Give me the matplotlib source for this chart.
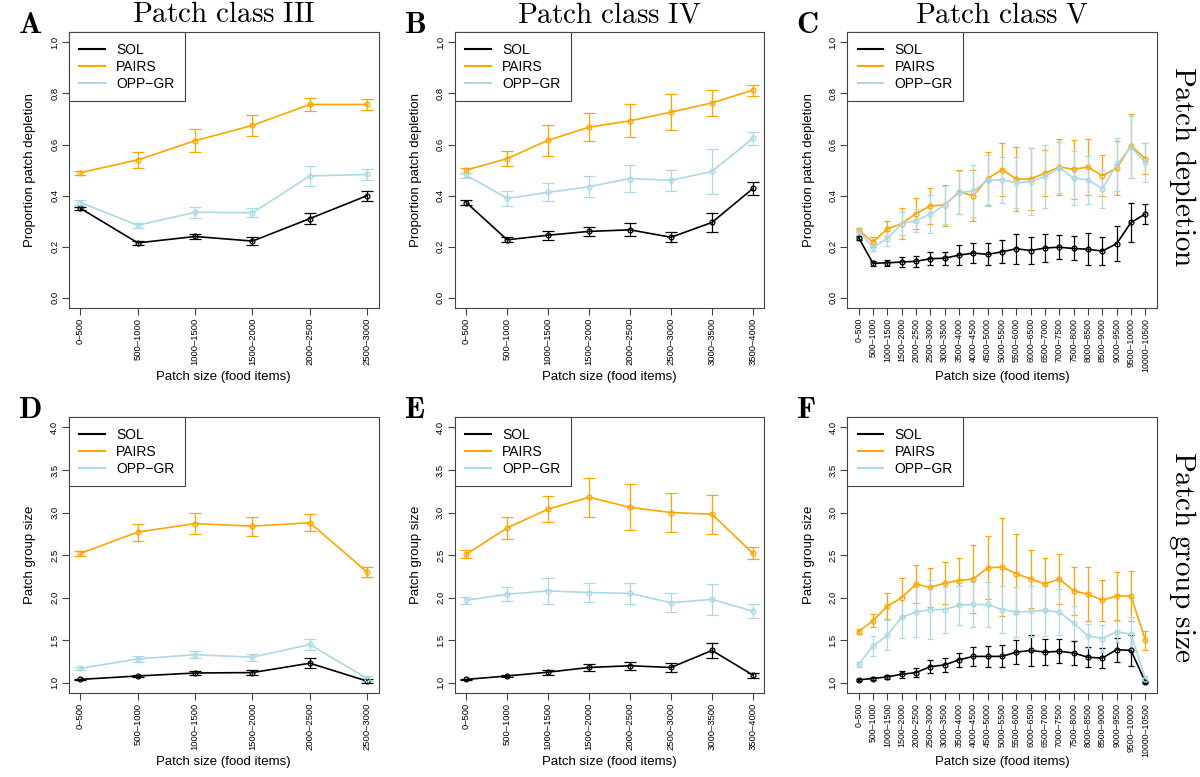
import matplotlib
matplotlib.use("Agg")
import matplotlib.pyplot as plt
from matplotlib.lines import Line2D
import numpy as np

plt.rcParams['font.family'] = ['Liberation Sans', 'DejaVu Sans']
plt.rcParams['mathtext.fontset'] = 'cm'

# категорії розмірів ділянок
labels_III = ["0–500", "500–1000", "1000–1500", "1500–2000", "2000–2500", "2500–3000"]
labels_IV = labels_III + ["3000–3500", "3500–4000"]
labels_V = [f"{a}–{a + 500}" for a in range(0, 10500, 500)]

# A: patch depletion, class III
dep_III_sol = [0.350, 0.215, 0.240, 0.222, 0.310, 0.400]
dep_III_sol_err = [0.005, 0.008, 0.010, 0.015, 0.021, 0.020]
dep_III_pairs = [0.490, 0.540, 0.615, 0.675, 0.757, 0.757]
dep_III_pairs_err = [0.008, 0.030, 0.045, 0.040, 0.025, 0.022]
dep_III_opp = [0.373, 0.284, 0.335, 0.333, 0.477, 0.483]
dep_III_opp_err = [0.008, 0.010, 0.022, 0.018, 0.038, 0.022]

# B: patch depletion, class IV
dep_IV_sol = [0.373, 0.227, 0.245, 0.260, 0.266, 0.237, 0.295, 0.428]
dep_IV_sol_err = [0.008, 0.010, 0.017, 0.017, 0.025, 0.020, 0.038, 0.027]
dep_IV_pairs = [0.500, 0.545, 0.617, 0.668, 0.693, 0.727, 0.763, 0.813]
dep_IV_pairs_err = [0.010, 0.030, 0.060, 0.055, 0.065, 0.070, 0.050, 0.022]
dep_IV_opp = [0.480, 0.389, 0.413, 0.435, 0.467, 0.460, 0.495, 0.624]
dep_IV_opp_err = [0.010, 0.028, 0.036, 0.040, 0.053, 0.042, 0.088, 0.026]

# C: patch depletion, class V
dep_V_sol = [0.235, 0.135, 0.137, 0.140, 0.143, 0.153, 0.155, 0.167, 0.175, 0.170, 0.180,
             0.192, 0.185, 0.195, 0.198, 0.193, 0.190, 0.183, 0.212, 0.295, 0.328]
dep_V_sol_err = [0.008, 0.010, 0.012, 0.018, 0.022, 0.025, 0.025, 0.038, 0.040, 0.043, 0.045,
                 0.058, 0.052, 0.055, 0.047, 0.047, 0.063, 0.056, 0.068, 0.075, 0.040]
dep_V_pairs = [0.265, 0.218, 0.270, 0.290, 0.330, 0.360, 0.363, 0.415, 0.400, 0.467, 0.502,
               0.465, 0.465, 0.488, 0.512, 0.503, 0.512, 0.478, 0.508, 0.595, 0.545]
dep_V_pairs_err = [0.008, 0.020, 0.030, 0.060, 0.060, 0.070, 0.080, 0.085, 0.100, 0.105, 0.105,
                   0.125, 0.120, 0.090, 0.110, 0.115, 0.110, 0.080, 0.105, 0.125, 0.060]
dep_V_opp = [0.260, 0.198, 0.232, 0.290, 0.302, 0.328, 0.363, 0.413, 0.418, 0.460, 0.462,
             0.450, 0.455, 0.475, 0.510, 0.468, 0.462, 0.427, 0.522, 0.590, 0.530]
dep_V_opp_err = [0.010, 0.015, 0.030, 0.045, 0.045, 0.075, 0.075, 0.085, 0.100, 0.100, 0.090,
                 0.100, 0.130, 0.125, 0.100, 0.105, 0.095, 0.075, 0.105, 0.120, 0.075]

# D: patch group size, class III
grp_III_sol = [1.04, 1.08, 1.115, 1.12, 1.23, 1.02]
grp_III_sol_err = [0.01, 0.015, 0.02, 0.025, 0.06, 0.02]
grp_III_pairs = [2.52, 2.77, 2.87, 2.84, 2.88, 2.30]
grp_III_pairs_err = [0.03, 0.10, 0.12, 0.11, 0.10, 0.06]
grp_III_opp = [1.17, 1.28, 1.33, 1.30, 1.45, 1.05]
grp_III_opp_err = [0.02, 0.03, 0.04, 0.04, 0.07, 0.03]

# E: patch group size, class IV
grp_IV_sol = [1.04, 1.08, 1.125, 1.18, 1.20, 1.18, 1.38, 1.09]
grp_IV_sol_err = [0.01, 0.015, 0.03, 0.04, 0.05, 0.05, 0.09, 0.03]
grp_IV_pairs = [2.51, 2.82, 3.04, 3.18, 3.06, 3.00, 2.98, 2.52]
grp_IV_pairs_err = [0.045, 0.13, 0.15, 0.23, 0.27, 0.23, 0.23, 0.07]
grp_IV_opp = [1.97, 2.04, 2.08, 2.06, 2.05, 1.94, 1.98, 1.84]
grp_IV_opp_err = [0.04, 0.08, 0.15, 0.11, 0.12, 0.11, 0.18, 0.08]

# F: patch group size, class V
grp_V_sol = [1.035, 1.05, 1.07, 1.10, 1.12, 1.19, 1.21, 1.27, 1.31, 1.31, 1.31,
             1.36, 1.38, 1.36, 1.37, 1.35, 1.30, 1.29, 1.39, 1.38, 1.01]
grp_V_sol_err = [0.01, 0.015, 0.02, 0.04, 0.05, 0.08, 0.08, 0.08, 0.11, 0.12, 0.13,
                 0.14, 0.18, 0.15, 0.14, 0.14, 0.12, 0.12, 0.14, 0.18, 0.01]
grp_V_pairs = [1.60, 1.73, 1.90, 2.00, 2.16, 2.12, 2.17, 2.20, 2.22, 2.35, 2.36,
               2.28, 2.22, 2.16, 2.22, 2.08, 2.04, 1.97, 2.02, 2.02, 1.50]
grp_V_pairs_err = [0.03, 0.08, 0.15, 0.23, 0.22, 0.23, 0.25, 0.27, 0.40, 0.37, 0.57,
                   0.47, 0.34, 0.31, 0.29, 0.28, 0.32, 0.24, 0.28, 0.29, 0.11]
grp_V_opp = [1.22, 1.43, 1.56, 1.77, 1.83, 1.86, 1.86, 1.91, 1.92, 1.92, 1.86,
             1.83, 1.84, 1.85, 1.83, 1.70, 1.55, 1.52, 1.60, 1.57, 1.05]
grp_V_opp_err = [0.03, 0.12, 0.18, 0.24, 0.29, 0.35, 0.27, 0.23, 0.26, 0.26, 0.28,
                 0.29, 0.30, 0.30, 0.27, 0.20, 0.14, 0.16, 0.12, 0.20, 0.03]

col_sol, col_pairs, col_opp = "black", "#FFA500", "#ADD8E6"


def panel(ax, labels, series, ylim, yticks, ylabel, letter, small=False):
    x = np.arange(1, len(labels) + 1)
    cap = 2 if small else 4
    handles = []
    for (y, err, c, name) in series:
        ax.errorbar(x, y, yerr=err, color=c, lw=1.2, elinewidth=0.9, capsize=cap,
                    capthick=0.9, marker='o', ms=3.5, mfc='none', mew=0.9)
        handles.append(Line2D([], [], color=c, lw=1.5, label=name))
    pad = 0.04 * (len(labels) - 1)
    ax.set_xlim(1 - pad, len(labels) + pad)
    span = ylim[1] - ylim[0]
    ax.set_ylim(ylim[0] - 0.04 * span, ylim[1] + 0.04 * span)
    ax.set_xticks(x)
    ax.set_xticklabels(labels, rotation=90, fontsize=6.3 if small else 6.8)
    ax.set_yticks(yticks)
    ax.set_yticklabels([f"{v:.1f}" for v in yticks], rotation=90, va='center', fontsize=6.8)
    ax.tick_params(color='#444444', length=5, pad=2)
    for s in ax.spines.values():
        s.set_color('#444444')
        s.set_linewidth(0.8)
    ax.set_ylabel(ylabel, fontsize=9.5)
    ax.yaxis.set_label_coords(-0.105, 0.5)
    ax.set_xlabel("Patch size (food items)", fontsize=9.5)
    ax.xaxis.set_label_coords(0.5, -0.228)
    leg = ax.legend(handles=handles, loc='upper left', borderaxespad=0, fancybox=False,
                    framealpha=1, fontsize=10, handlelength=1.85, handletextpad=0.8,
                    borderpad=0.75, labelspacing=0.22)
    leg.get_frame().set_edgecolor('#444444')
    leg.get_frame().set_linewidth(0.8)
    ax.text(-0.165, 1.025, r'$\mathbf{' + letter + '}$', transform=ax.transAxes,
            fontsize=22, ha='left', va='center')


fig = plt.figure(figsize=(12, 7.77), dpi=100)
lefts = [0.0575, 0.379, 0.706]
w = 0.258
tops = [(0.6036, 0.355), (0.1081, 0.355)]

dep_ticks = [0.0, 0.2, 0.4, 0.6, 0.8, 1.0]
grp_ticks = [1.0, 1.5, 2.0, 2.5, 3.0, 3.5, 4.0]

top_data = [
    (labels_III, [(dep_III_sol, dep_III_sol_err, col_sol, "SOL"),
                  (dep_III_pairs, dep_III_pairs_err, col_pairs, "PAIRS"),
                  (dep_III_opp, dep_III_opp_err, col_opp, "OPP−GR")], "A", False),
    (labels_IV, [(dep_IV_sol, dep_IV_sol_err, col_sol, "SOL"),
                 (dep_IV_pairs, dep_IV_pairs_err, col_pairs, "PAIRS"),
                 (dep_IV_opp, dep_IV_opp_err, col_opp, "OPP−GR")], "B", False),
    (labels_V, [(dep_V_sol, dep_V_sol_err, col_sol, "SOL"),
                (dep_V_pairs, dep_V_pairs_err, col_pairs, "PAIRS"),
                (dep_V_opp, dep_V_opp_err, col_opp, "OPP−GR")], "C", True),
]
bottom_data = [
    (labels_III, [(grp_III_sol, grp_III_sol_err, col_sol, "SOL"),
                  (grp_III_pairs, grp_III_pairs_err, col_pairs, "PAIRS"),
                  (grp_III_opp, grp_III_opp_err, col_opp, "OPP−GR")], "D", False),
    (labels_IV, [(grp_IV_sol, grp_IV_sol_err, col_sol, "SOL"),
                 (grp_IV_pairs, grp_IV_pairs_err, col_pairs, "PAIRS"),
                 (grp_IV_opp, grp_IV_opp_err, col_opp, "OPP−GR")], "E", False),
    (labels_V, [(grp_V_sol, grp_V_sol_err, col_sol, "SOL"),
                (grp_V_pairs, grp_V_pairs_err, col_pairs, "PAIRS"),
                (grp_V_opp, grp_V_opp_err, col_opp, "OPP−GR")], "F", True),
]

titles = [r'$\mathrm{Patch\ class\ III}$', r'$\mathrm{Patch\ class\ IV}$', r'$\mathrm{Patch\ class\ V}$']

for i, (labs, ser, let, small) in enumerate(top_data):
    ax = fig.add_axes([lefts[i], tops[0][0], w, tops[0][1]])
    panel(ax, labs, ser, (0, 1), dep_ticks, "Proportion patch depletion", let, small)
    ax.set_title(titles[i], fontsize=21, pad=7)
    if i == 2:
        ax.text(1.084, 0.514, r'$\mathrm{Patch\ depletion}$', transform=ax.transAxes,
                rotation=270, fontsize=21, ha='center', va='center')

for i, (labs, ser, let, small) in enumerate(bottom_data):
    ax = fig.add_axes([lefts[i], tops[1][0], w, tops[1][1]])
    panel(ax, labs, ser, (1, 4), grp_ticks, "Patch group size", let, small)
    if i == 2:
        ax.text(1.084, 0.493, r'$\mathrm{Patch\ group\ size}$', transform=ax.transAxes,
                rotation=270, fontsize=21, ha='center', va='center')

fig.savefig("out.png", dpi=100)
